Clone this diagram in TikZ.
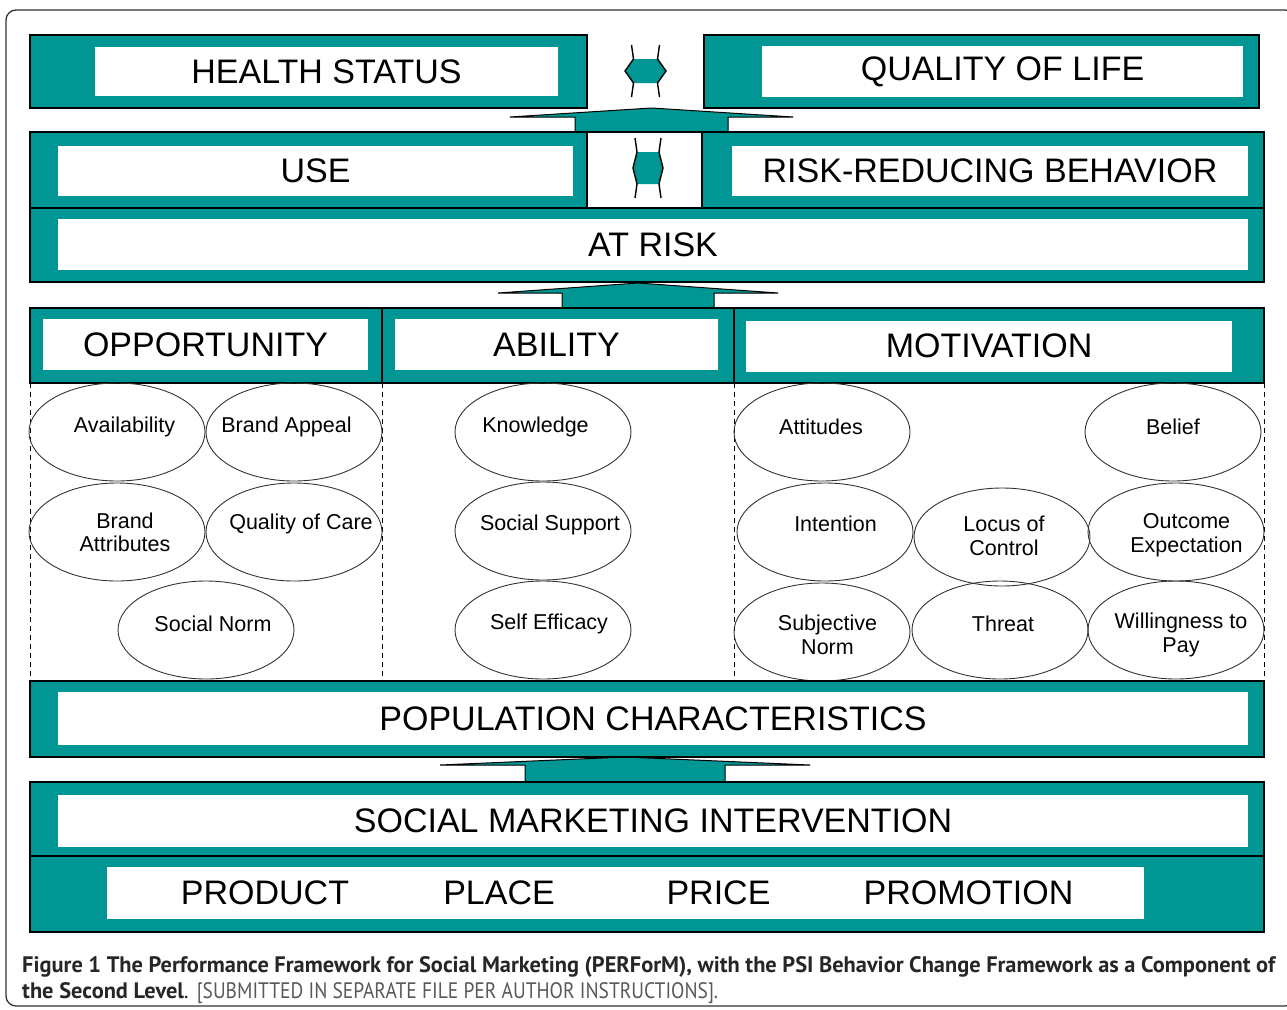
\documentclass[tikz,border=0pt]{standalone}
\usepackage{fontspec}
\setmainfont{Liberation Sans}
\newfontfamily\capfont{PT Sans}
\newfontfamily\capnarrow[FakeStretch=0.87]{PT Sans}
\usetikzlibrary{shapes.geometric}
\definecolor{perteal}{RGB}{0,150,148}

\begin{document}
\begin{tikzpicture}[x=1pt, y=-1pt,
		band/.style={draw=black, fill=perteal, line width=1.4pt},
		caps/.style={font=\fontsize{34}{40}\selectfont},
		tag/.style={caps, fill=white, inner sep=0pt},
		factor/.style={ellipse, draw=black!80, line width=0.9pt, minimum width=176, minimum height=98, inner sep=0pt},
		factor text/.style={inner sep=0pt, align=center, font=\fontsize{21.5}{23.5}\selectfont},
		sep/.style={draw=black, dash pattern=on 5pt off 4pt, line width=0.9pt}]
	\useasboundingbox (0,0) rectangle (1287,1009);
	\draw[black!80, line width=1.3pt, rounded corners=10pt] (6,10) rectangle (1295,1006);

	% block arrows pointing up: head left/apex x/head right/apex y/head base/shaft left/shaft right/shaft foot
	\foreach \hl/\ax/\hr/\ay/\hb/\sl/\sr/\sb in {510/651.5/793/108/117/575/728/132,
			498/638/778/283/293/562/714/308, 440/625/810/757/765/525/725/781}
		\draw[band, line width=1pt] (\sl,\sb) -- (\sl,\hb) -- (\hl,\hb) -- (\ax,\ay) -- (\hr,\hb) -- (\sr,\hb) -- (\sr,\sb);

	% top level
	\draw[band] (30,35) rectangle (587,108);
	\draw[band] (704,35) rectangle (1259,108);
	\node[tag, minimum width=463, minimum height=49] (health) at (326.5,71.5) {HEALTH STATUS};
	\node[tag, minimum width=481, minimum height=51] (life) at (1002.5,71.5) {QUALITY OF LIFE};

	\draw[band] (30,132) rectangle (587,208);
	\draw[draw=black, fill=white, line width=1.4pt] (587,132) rectangle (702,208);
	\draw[band] (702,132) rectangle (1264,208);
	\node[tag, minimum width=515, minimum height=50] (use) at (315.5,171) {USE};
	\node[tag, minimum width=516, minimum height=50] (behavior) at (990,171) {RISK-REDUCING BEHAVIOR};

	% two-way arrows between the outcome boxes
	\foreach \cx/\cy/\tw/\bw/\bh/\sh in {645.5/71/20.5/12/12/26, 648/168/15/11/16/30} {
		\fill[perteal] (\cx-\bw,\cy-\bh) -- (\cx+\bw,\cy-\bh) -- (\cx+\tw,\cy) -- (\cx+\bw,\cy+\bh)
			-- (\cx-\bw,\cy+\bh) -- (\cx-\tw,\cy) -- cycle;
		\draw[line width=1.4pt] (\cx-\bw-2,\cy-\sh) -- (\cx-\bw,\cy-\bh) -- (\cx-\tw,\cy) -- (\cx-\bw,\cy+\bh) -- (\cx-\bw-2,\cy+\sh);
		\draw[line width=1.4pt] (\cx+\bw+2,\cy-\sh) -- (\cx+\bw,\cy-\bh) -- (\cx+\tw,\cy) -- (\cx+\bw,\cy+\bh) -- (\cx+\bw+2,\cy+\sh);
	}

	\draw[band] (30,208) rectangle (1264,282);
	\node[tag, minimum width=1190, minimum height=51] (risk) at (653,244.5) {AT RISK};

	% second level
	\draw[band] (30,308) rectangle (1264,383);
	\draw[line width=1.4pt] (382,308) -- (382,383) (734,308) -- (734,383);
	\node[tag, minimum width=325, minimum height=51] (opportunity) at (205.5,344.5) {OPPORTUNITY};
	\node[tag, minimum width=323, minimum height=51] (ability) at (556.5,344.5) {ABILITY};
	\node[tag, minimum width=486, minimum height=51] (motivation) at (989,346) {MOTIVATION};

	\foreach \x in {30,382,734,1264}
		\draw[sep] (\x,383) -- (\x,681);

	% name/ellipse centre/text centre/text
	\foreach \nm/\ex/\ey/\tx/\ty/\txt in {
			availability/117/432/124.5/427/Availability,
			appeal/294/432/286.5/427/Brand Appeal,
			attributes/117/532/125/532.5/{Brand\\Attributes},
			quality/294/532/301/524/Quality of Care,
			norm/206/630/213/624/Social Norm,
			knowledge/543/432/535.5/427/Knowledge,
			support/543/531/550/525/Social Support,
			efficacy/543/630/549/624/Self Efficacy,
			attitudes/822/432/821/427/Attitudes,
			belief/1173/432/1173/427/Belief,
			intention/825/532/835.5/524/Intention,
			locus/1002/537/1004/536/{Locus of\\Control},
			outcome/1176/532/1186.5/535/{Outcome\\Expectation},
			subjective/822/632/827.5/635/{Subjective\\Norm},
			threat/1000/630/1003/624/Threat,
			willingness/1176/630/1181/635/{Willingness to\\Pay}} {
		\node[factor] (\nm) at (\ex,\ey) {};
		\node[factor text] (\nm-text) at (\tx,\ty) {\txt};
	}

	\draw[band] (30,681) rectangle (1264,757);
	\node[tag, minimum width=1190, minimum height=53] (population) at (653,718.5) {POPULATION CHARACTERISTICS};

	% bottom level
	\draw[band] (30,782) rectangle (1264,856);
	\node[tag, minimum width=1190, minimum height=52] (intervention) at (653,821) {SOCIAL MARKETING INTERVENTION};
	\draw[band] (30,856) rectangle (1264,932);
	\node[tag, minimum width=1037, minimum height=52] (mix) at (625.5,893) {};
	\node[caps] (product) at (265,893) {PRODUCT};
	\node[caps] (place) at (499,893) {PLACE};
	\node[caps] (price) at (718.5,893) {PRICE};
	\node[caps] (promotion) at (968.5,893) {PROMOTION};

	\node[anchor=base west, text width=1253pt, align=justify, inner sep=0pt, text=black!85,
		font=\capfont\fontsize{22.4}{26}\selectfont] (caption) at (22,972)
		{\hyphenpenalty=10000 \emergencystretch=2em \textbf{Figure 1 The Performance Framework for Social Marketing (PERForM), with the PSI Behavior Change Framework as a Component of the Second Level}. {\capnarrow\color{black!65}[SUBMITTED IN SEPARATE FILE PER AUTHOR INSTRUCTIONS].}};
\end{tikzpicture}
\end{document}
